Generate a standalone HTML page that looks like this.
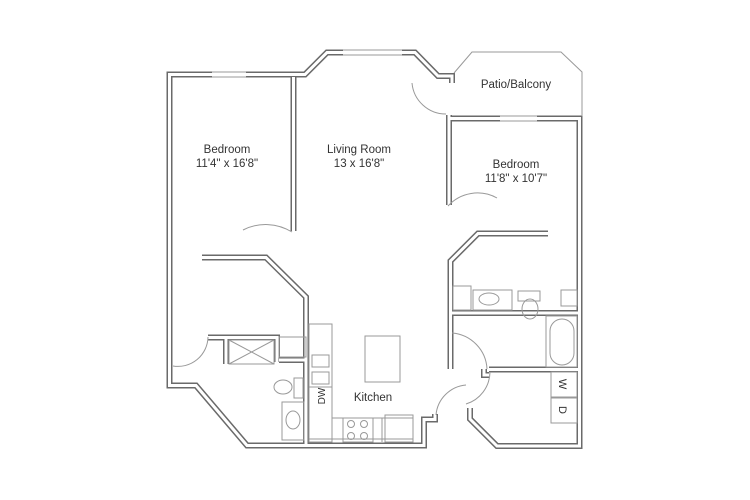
<!DOCTYPE html>
<html><head><style>
body{margin:0;background:#fff;width:750px;height:500px;overflow:hidden}
svg{display:block}
text{font-family:"Liberation Sans",sans-serif;fill:#333;font-size:11.5px}
</style></head><body>
<svg width="750" height="500" viewBox="0 0 750 500">
<defs>
<g id="walls" fill="none" stroke-linejoin="miter">
<polyline points="212,74.5 169.5,74.5 169.5,385.5 196,385.5 247,445.5 308,445.5"/>
<polyline points="246,74.5 305,74.5 327,52.5 343,52.5"/>
<polyline points="402,52.5 415,52.5 438,76 452,76 452,83"/>
<polyline points="293.5,77 293.5,231"/>
<polyline points="202,257.5 266,257.5 306,297 306,445"/>
<polyline points="449,115 449,118.5 500,118.5"/>
<polyline points="449,118 449,205"/>
<polyline points="537,118.5 579.5,118.5 579.5,446 497,446 470,419 470,408"/>
<polyline points="548,233.5 478,233.5 450.5,261 450.5,369"/>
<polyline points="306,445.5 424,445.5 424,419.5 435,419.5 435,414"/>
<polyline points="489,369.5 579,369.5"/>
<polyline points="484,369 484,375 489,375"/>
<polyline points="450.5,313 579,313"/>
<polyline points="208,337.5 277,337.5 277,362"/>
<polyline points="226,337.5 226,364"/>
<polyline points="279,360 306,360"/>
</g>
</defs>
<use href="#walls" stroke="#6a6a6a" stroke-width="6"/>
<use href="#walls" stroke="#fff" stroke-width="3"/>
<g fill="none" stroke="#999" stroke-width="1">
<line x1="212" y1="72" x2="246" y2="72"/><line x1="212" y1="77" x2="246" y2="77"/>
<line x1="343" y1="50" x2="402" y2="50"/><line x1="343" y1="55" x2="402" y2="55"/>
<line x1="500" y1="116" x2="537" y2="116"/><line x1="500" y1="121" x2="537" y2="121"/>
<polyline points="454,73 472,52 561,52 582,72 582,116"/>
<path d="M412,83 A34,34 0 0 0 446,114"/>
<path d="M243,230 A50,50 0 0 1 292,232"/>
<path d="M448,206 A40,40 0 0 1 497,198"/>
<path d="M173,366 A30,30 0 0 0 208,337"/>
<path d="M452,333 A38,38 0 0 1 487,369"/>
<path d="M490,372 A34,34 0 0 1 466,404"/>
<path d="M436,415 A33,33 0 0 1 466,385"/>
<rect x="229" y="340" width="45" height="24"/>
<line x1="229" y1="340" x2="274" y2="364"/><line x1="274" y1="340" x2="229" y2="364"/>
<rect x="279" y="337" width="27" height="20"/>
<ellipse cx="283" cy="387" rx="9" ry="7"/>
<rect x="294" y="378" width="9" height="20"/>
<rect x="282" y="402" width="22" height="38"/>
<ellipse cx="293" cy="420" rx="7" ry="9"/>
<rect x="309" y="324" width="23" height="118"/>
<rect x="312" y="355" width="17" height="12"/><rect x="312" y="372" width="17" height="12"/>
<polyline points="309,387 332,387 332,418 413,418 413,442"/>
<line x1="309" y1="439" x2="413" y2="439"/>
<rect x="343" y="418" width="30" height="24"/>
<line x1="382" y1="418" x2="382" y2="442"/>
<rect x="385" y="415" width="28" height="27"/>
<circle cx="351" cy="424" r="3.5"/><circle cx="364" cy="424" r="3.5"/>
<circle cx="351" cy="436" r="3.5"/><circle cx="364" cy="436" r="3.5"/>
<rect x="365" y="336" width="35" height="46"/>
<rect x="453" y="286" width="18" height="24"/>
<rect x="473" y="290" width="39" height="20"/>
<ellipse cx="489" cy="299" rx="10" ry="6"/>
<rect x="518" y="291" width="22" height="10"/>
<ellipse cx="530" cy="309" rx="8" ry="10"/>
<rect x="561" y="290" width="16" height="16"/>
<rect x="546" y="316" width="31" height="51"/>
<rect x="550" y="319" width="24" height="46" rx="12"/>
<rect x="551" y="372" width="26" height="25"/>
<rect x="551" y="398" width="26" height="25"/>
</g>
<text x="227" y="153" text-anchor="middle">Bedroom</text>
<text x="227" y="167" text-anchor="middle">11'4" x 16'8"</text>
<text x="359" y="153" text-anchor="middle">Living Room</text>
<text x="359" y="167" text-anchor="middle">13 x 16'8"</text>
<text x="516" y="168" text-anchor="middle">Bedroom</text>
<text x="516" y="182" text-anchor="middle">11'8" x 10'7"</text>
<text x="516" y="88" text-anchor="middle">Patio/Balcony</text>
<text x="373" y="401" text-anchor="middle">Kitchen</text>
<text transform="translate(325,396) rotate(-90)" text-anchor="middle" style="font-size:10px">DW</text>
<text transform="translate(559,384) rotate(90)" text-anchor="middle" style="font-size:11px">W</text>
<text transform="translate(559,410) rotate(90)" text-anchor="middle" style="font-size:11px">D</text>
</svg>
</body></html>
